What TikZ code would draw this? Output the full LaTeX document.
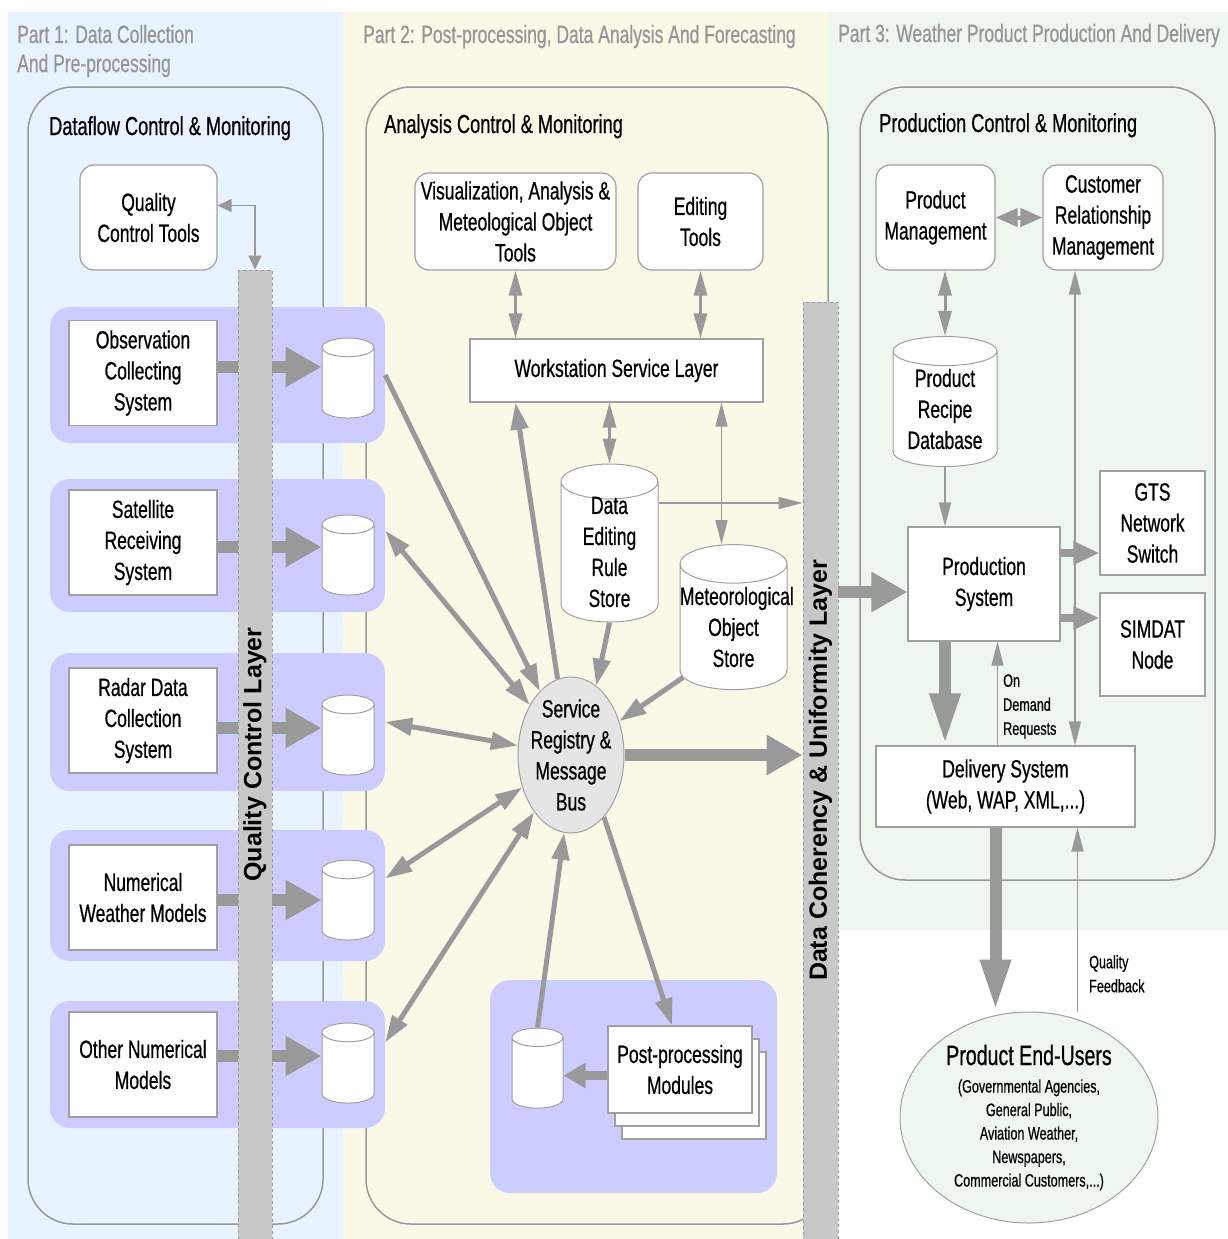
\documentclass[tikz,border=0pt]{standalone}
\usepackage{fontspec}
\setmainfont{Liberation Sans}[FakeStretch=0.7,FakeBold=0.6]
\newfontfamily\layerfont{Liberation Sans}
\usetikzlibrary{arrows.meta,shapes.geometric,shadows,calc,positioning}
\definecolor{partone}{RGB}{232,243,255}
\definecolor{parttwo}{RGB}{250,249,232}
\definecolor{partthree}{RGB}{238,247,238}
\definecolor{mypurple}{RGB}{204,204,255}
\definecolor{mygray}{RGB}{153,153,153}
\definecolor{edgegray}{RGB}{160,160,160}
\definecolor{barfill}{RGB}{200,200,200}
\definecolor{busfill}{RGB}{229,229,229}
\definecolor{titlegray}{RGB}{150,150,150}
\pgfdeclarelayer{bg}
\pgfdeclarelayer{links}
\pgfsetlayers{bg,links,main}
\newcommand{\boxfont}{\fontsize{25}{31}\selectfont}

\begin{document}
\begin{tikzpicture}[x=1pt,y=-1pt,
    every node/.style={inner sep=2pt,font=\boxfont,align=center},
    box/.style={draw=edgegray,fill=white,line width=1.2pt},
    tool/.style={box,rounded corners=14pt},
    store/.style={cylinder,shape border rotate=90,aspect=0.36,draw=edgegray,fill=white,line width=1pt,inner xsep=0pt,inner ysep=-3pt},
    grp/.style={fill=mypurple,rounded corners=20pt,minimum width=335pt},
    frame/.style={draw=mygray,line width=1.5pt,rounded corners=45pt},
    layer/.style={draw=mygray,dashed,line width=0.8pt,fill=barfill,rotate=90,font=\layerfont\bfseries\fontsize{25}{28}\selectfont},
    parttitle/.style={anchor=base west,text=titlegray,inner sep=0pt},
    frametitle/.style={anchor=base west,inner sep=0pt,font=\fontsize{26}{30}\selectfont},
    note/.style={anchor=north west,align=left,inner sep=0pt,font=\fontsize{18}{24}\selectfont},
    fatlink/.style={draw=mygray,line width=12pt,-{Triangle[width=38pt,length=36pt]}},
    droplink/.style={draw=mygray,line width=12pt,-{Triangle[width=28pt,length=52pt]}},
    outlink/.style={draw=mygray,line width=8pt,-{Triangle[width=22pt,length=26pt]}},
    midlink/.style={draw=mygray,line width=9pt,-{Triangle[width=24pt,length=22pt]}},
    buslink/.style={draw=mygray,line width=5pt,>={Triangle[width=17pt,length=27pt]}},
    medlink/.style={draw=mygray,line width=4pt,>={Triangle[width=18pt,length=22pt]}},
    slimlink/.style={draw=mygray,line width=3pt,>={Triangle[width=13pt,length=25pt]}},
    finelink/.style={draw=mygray,line width=1.5pt,>={Triangle[width=12pt,length=24pt]}}
    ]
    \useasboundingbox (0,0) rectangle (1228,1239);

    % the three parts and their frames
    \begin{pgfonlayer}{bg}
    \fill[partone] (8,12) rectangle (343,1239);
    \fill[parttwo] (343,12) rectangle (828,1239);
    \fill[partthree] (828,12) rectangle (1228,930);
    \draw[frame] (28,87) rectangle (323,1224);
    \draw[frame] (366,87) rectangle (828,1224);
    \draw[frame] (860,87) rectangle (1215,880);
    \end{pgfonlayer}
    \node[parttitle] (part1a) at (17,43) {Part 1: Data Collection};
    \node[parttitle] (part1b) at (17,72) {And Pre-processing};
    \node[parttitle] (part2) at (363,43) {Part 2: Post-processing, Data Analysis And Forecasting};
    \node[parttitle] (part3) at (838,42) {Part 3: Weather Product Production And Delivery};
    \node[frametitle] (dftitle) at (49,135) {Dataflow Control \& Monitoring};
    \node[frametitle] (antitle) at (384,133) {Analysis Control \& Monitoring};
    \node[frametitle] (prtitle) at (879,132) {Production Control \& Monitoring};

    % the data sources of part 1
    \node[tool,minimum width=137pt,minimum height=105pt] (qct) at (148.5,217.5) {Quality\\Control Tools};
    \foreach \i/\gy/\gh/\by/\cy/\ay/\txt in {
        1/375/136/373/383/367/{Observation\\Collecting\\System},
        2/545.5/133/542.5/560/547/{Satellite\\Receiving\\System},
        3/722/138/720.5/740/728/{Radar Data\\Collection\\System},
        4/895.5/131/897.5/905/900/{Numerical\\Weather Models},
        5/1064.5/127/1064.5/1068/1056/{Other Numerical\\Models}} {
      \begin{pgfonlayer}{bg}
      \node[grp,minimum height=\gh pt] (g\i) at (217.5,\gy) {};
      \end{pgfonlayer}
      \node[box,minimum width=148pt,minimum height=105pt] (b\i) at (143,\by) {\txt};
      \node[store,text width=52pt,minimum height=80pt] (c\i) at (348,\cy) {};
      \begin{pgfonlayer}{links}
      \draw[fatlink] (b\i.east |- 0,\ay) -- (c\i.west |- 0,\ay);
      \end{pgfonlayer}
    }
    \node[layer,minimum width=969pt,minimum height=34pt] (qcl) at (255,754.5) {Quality Control Layer};

    % the analysis part
    \node[tool,minimum width=201pt,minimum height=97pt] (vis) at (515.5,221.5) {Visualization, Analysis \&\\Meteological Object\\Tools};
    \node[tool,minimum width=125pt,minimum height=97pt] (edit) at (700.5,221.5) {Editing\\Tools};
    \node[box,minimum width=293pt,minimum height=63pt] (wsl) at (616.5,370.5) {Workstation Service Layer};
    \node[store,text width=97pt,minimum height=158pt] (ders) at (609.5,552) {Data\\Editing\\Rule\\Store};
    \node[store,text width=107pt,minimum height=145pt] (mos) at (733.5,627) {Meteorological\\Object\\Store};
    \node[ellipse,draw=edgegray,fill=busfill,line width=1pt,inner sep=-15pt,minimum width=106pt,minimum height=156pt] (srmb) at (571,755) {Service\\Registry \&\\Message\\Bus};
    \begin{pgfonlayer}{bg}
    \node[grp,minimum width=287pt,minimum height=213pt] (pgrp) at (633.5,1086.5) {};
    \end{pgfonlayer}
    \node[store,text width=51pt,minimum height=80pt] (pcyl) at (537.5,1073) {};
    \node[box,minimum width=144pt,minimum height=87pt,
      double copy shadow={shadow xshift=7pt,shadow yshift=-13pt,draw=edgegray,fill=white,line width=1.2pt}] (ppm) at (680,1069.5) {Post-processing\\Modules};
    \node[layer,minimum width=937pt,minimum height=35pt] (dcu) at (820.5,770.5) {Data Coherency \& Uniformity Layer};

    % the production part
    \node[tool,minimum width=119pt,minimum height=105pt] (pm) at (935.5,217.5) {Product\\Management};
    \node[tool,minimum width=120pt,minimum height=105pt] (crm) at (1103,217.5) {Customer\\Relationship\\Management};
    \node[store,aspect=0.28,text width=104pt,minimum height=130pt] (prdb) at (945,409) {Product\\Recipe\\Database};
    \node[box,minimum width=152pt,minimum height=114pt] (ps) at (984,584) {Production\\System};
    \node[box,minimum width=105pt,minimum height=104pt] (gts) at (1152.5,523) {GTS\\Network\\Switch};
    \node[box,minimum width=105pt,minimum height=103pt] (simdat) at (1152.5,644.5) {SIMDAT\\Node};
    \node[box,minimum width=259pt,minimum height=81pt] (ds) at (1005.5,786.5) {Delivery System\\(Web, WAP, XML,...)};
    \node[ellipse,draw=edgegray,fill=partthree,line width=1pt,inner sep=-20pt,minimum width=258pt,minimum height=211pt,
      font=\fontsize{18}{23.5}\selectfont] (users) at (1029,1117.5)
      {{\fontsize{28}{30}\selectfont Product End-Users}\\[4pt] (Governmental Agencies,\\General Public,\\Aviation Weather,\\Newspapers,\\Commercial Customers,...)};
    \node[note] (odr) at (1003,674) {On\\Demand\\Requests};
    \node[note] (qfb) at (1089,955) {Quality\\Feedback};

    % the links
    \begin{pgfonlayer}{links}
    \draw[finelink,>={Triangle[width=13pt,length=14pt]},<->] ([yshift=12pt]qct.east) -| (qcl.east);
    \draw[buslink,->] (g1.east) -- (srmb);
    \draw[buslink,<->] ([yshift=15pt]g2.east) -- (srmb);
    \draw[buslink,<->] (g3.east) -- (srmb);
    \draw[buslink,<->] ([yshift=17pt]g4.east) -- (srmb);
    \draw[buslink,<->] ([yshift=22pt]g5.east) -- (srmb);
    \draw[slimlink,<->] (vis.south) -- (vis.south |- wsl.north);
    \draw[slimlink,<->] (edit.south) -- (edit.south |- wsl.north);
    \draw[slimlink,<->] (ders.north |- wsl.south) -- (ders.north);
    \draw[finelink,<->] ($(mos.north |- wsl.south)+(-12,0)$) -- ($(mos.north)+(-12,0)$);
    \coordinate (dersx) at ([yshift=49pt]ders.east);
    \draw[finelink,->] (dersx) -- (dersx -| dcu.north);
    \draw[buslink,->] (srmb.100) -- ([xshift=-101pt]wsl.south);
    \draw[buslink,->] (ders.south) -- (srmb.70);
    \draw[buslink,->] (mos.-135) -- (srmb.35);
    \draw[fatlink] (srmb.east) -- (srmb.east -| dcu.north);
    \draw[buslink,->] (pcyl.north) -- (srmb.-95);
    \draw[buslink,->] (srmb.-62) -- ([xshift=-8pt]ppm.north);
    \coordinate (ppmx) at ([yshift=-6pt]ppm.west);
    \draw[midlink] (ppmx) -- (ppmx -| pcyl.east);
    \draw[medlink,<->] (pm.east) -- (crm.west);
    \draw[slimlink,<->] (prdb.north) -- (prdb.north |- pm.south);
    \draw[finelink,->] (prdb.south) -- (prdb.south |- ps.north);
    \coordinate (psin) at ([yshift=-8pt]ps.west);
    \draw[fatlink] (psin -| dcu.south) -- (psin);
    \coordinate (gtsx) at ([yshift=31pt]ps.east);
    \draw[outlink] (gtsx) -- (gtsx -| gts.west);
    \coordinate (simx) at ([yshift=-34pt]ps.east);
    \draw[outlink] (simx) -- (simx -| simdat.west);
    \draw[droplink] (prdb.south |- ps.south) -- (prdb.south |- ds.north);
    \coordinate (odrx) at ([xshift=-8pt]ds.north);
    \draw[finelink,->] (odrx) -- (odrx |- ps.south);
    \coordinate (crmx) at ([xshift=-28pt]crm.south);
    \draw[finelink,<->] (crmx) -- (crmx |- ds.north);
    \coordinate (dsout) at ([xshift=-10pt]ds.south);
    \draw[droplink] (dsout) -- (dsout |- users.north);
    \coordinate (qfbx) at ([xshift=72pt]ds.south);
    \draw[finelink,->] (qfbx |- users.north) -- (qfbx);
    \end{pgfonlayer}
\end{tikzpicture}
\end{document}
